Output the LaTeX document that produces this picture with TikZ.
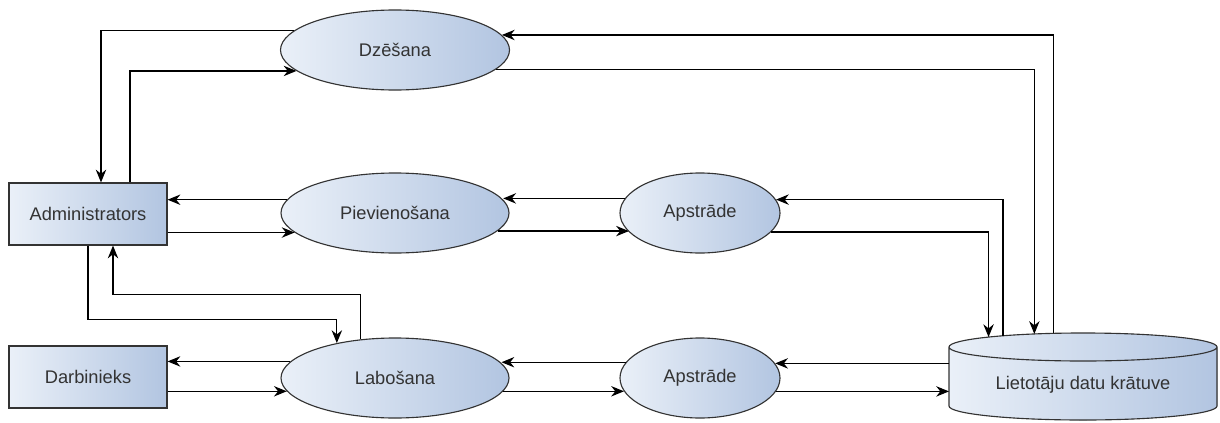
\documentclass[tikz,border=0pt]{standalone}
\usepackage{fontspec}
\setmainfont{Liberation Sans}
\usepackage{tikz}
\usetikzlibrary{arrows.meta,shapes.geometric}

\definecolor{fillL}{HTML}{EAF0F8}
\definecolor{fillR}{HTML}{B2C5E1}
\definecolor{edge}{HTML}{333333}

\tikzset{
  proc/.style={ellipse,draw=edge,line width=0.8pt,left color=fillL,right color=fillR,
    text=edge,minimum height=20mm,font=\fontsize{13}{15}\selectfont},
  ent/.style={rectangle,draw=edge,line width=0.8pt,left color=fillL,right color=fillR,
    text=edge,minimum width=39.5mm,minimum height=15.5mm,font=\fontsize{13}{15}\selectfont},
  flow/.style={-{Stealth[length=3.2mm,width=2.6mm]},line width=0.85pt,black}
}

\begin{document}
\begin{tikzpicture}[x=0.25mm,y=-0.25mm]
			\useasboundingbox (0,0) rectangle (1220,422);
			% cylinder for the data store
			\fill[left color=fillL,right color=fillR] (949,347) -- (949,406)
				arc[start angle=180,end angle=360,x radius=33.5mm,y radius=3.5mm]
				-- (1217,347) arc[start angle=0,end angle=180,x radius=33.5mm,y radius=3.5mm] -- cycle;
			\draw[edge,line width=0.8pt] (949,347) -- (949,406)
				arc[start angle=180,end angle=360,x radius=33.5mm,y radius=3.5mm]
				-- (1217,347) arc[start angle=0,end angle=180,x radius=33.5mm,y radius=3.5mm]
				arc[start angle=180,end angle=360,x radius=33.5mm,y radius=3.5mm];
			\node[ellipse,minimum width=67mm,minimum height=7mm,inner sep=0pt,outer sep=0pt] (storetop) at (1083,347) {};
			\node[rectangle,minimum width=67mm,minimum height=14.75mm,inner sep=0pt,outer sep=0pt,
				text=edge,font=\fontsize{13}{15}\selectfont] (store) at (1083,385) {Lietotāju datu krātuve};
			% processes and entities
			\node[ent] (adm) at (88,214) {Administrators};
			\node[ent] (dar) at (88,377) {Darbinieks};
			\node[proc,minimum width=57.25mm] (dz) at (395,50) {Dzēšana};
			\node[proc,minimum width=57mm] (pie) at (395,213) {Pievienošana};
			\node[proc,minimum width=57mm] (lab) at (395,378) {Labošana};
			\node[proc,minimum width=40mm] (apu) at (700,213) {Apstrāde};
			\node[proc,minimum width=40mm] (apl) at (700,378) {Apstrāde};
			% flows
			\draw[flow] (dz.169.33) -| ([xshift=3.25mm]adm.north);
			\draw[flow] ([xshift=10.5mm]adm.north) |- (dz.192.16);
			\draw[flow] (storetop.155.55) |- (dz.8.04);
			\draw[flow] (dz.-11.4) -| (storetop.165.11);
			\draw[flow] (pie.173.7) -- (adm.east |- pie.173.7);
			\draw[flow] (adm.east |- pie.191.45) -- (pie.191.45);
			\draw[flow] (apu.169.42) -- (pie.7.47 |- apu.169.42);
			\draw[flow] (pie.-10.73) -- (apu.195.1 |- pie.-10.73);
			\draw[flow] (storetop.172.74) |- (apu.10.58);
			\draw[flow] (apu.-15.1) -| (storetop.174.43);
			\draw[flow] (store.west |- apl.11.43) -- (apl.11.43);
			\draw[flow] (apl.-10.58) -- (store.west |- apl.-10.58);
			\draw[flow] (apl.168.57) -- (lab.8.08 |- apl.168.57);
			\draw[flow] (lab.-7.47) -- (apl.190.58 |- lab.-7.47);
			\draw[flow] (lab.171.92) -- (dar.east |- lab.171.92);
			\draw[flow] (dar.east |- lab.187.47) -- (lab.187.47);
			\draw[flow] (adm.south) -- ++(0,74) -| (lab.149.33);
			\draw[flow] (lab.132.6) -- ++(0,-45) -| ([xshift=6.25mm]adm.south);
		\end{tikzpicture}
\end{document}
